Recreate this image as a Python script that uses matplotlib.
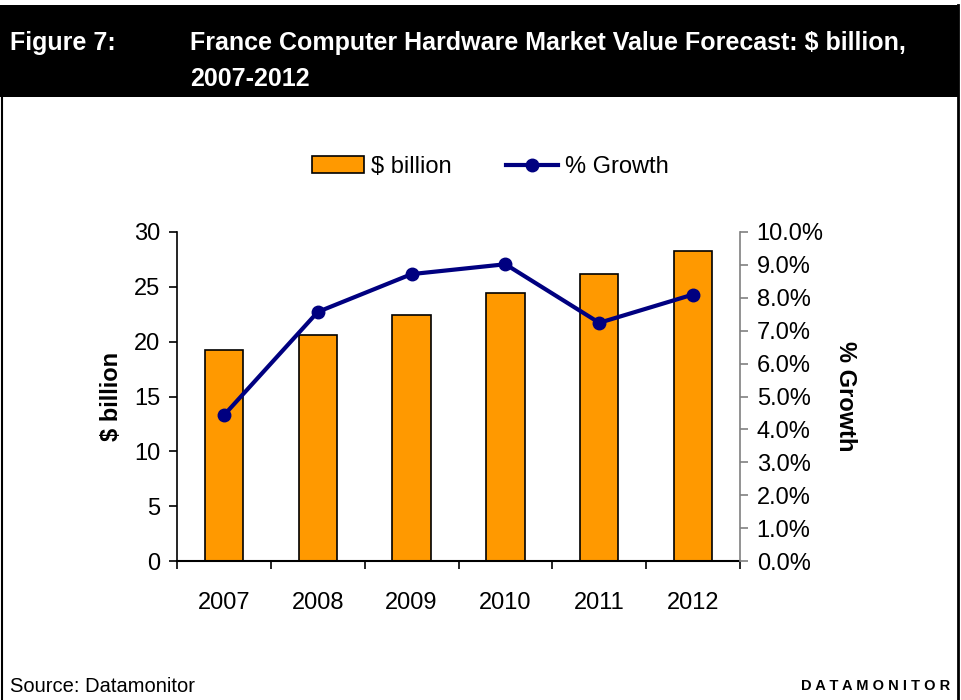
import matplotlib
matplotlib.use('Agg')
import matplotlib.pyplot as plt
from matplotlib.patches import Rectangle
from matplotlib.lines import Line2D
import numpy as np

# data
years = ['2007', '2008', '2009', '2010', '2011', '2012']
value_bn = [19.2, 20.6, 22.4, 24.4, 26.2, 28.3]
growth_pct = [4.43, 7.57, 8.72, 9.02, 7.24, 8.10]

plt.rcParams['font.family'] = ['Liberation Sans', 'DejaVu Sans']

W, H = 961, 700
fig = plt.figure(figsize=(W / 100, H / 100), dpi=100)


def fx(px):
    return px / W


def fy(py):
    return 1 - py / H


# header band and frame
fig.patches.append(Rectangle((0, fy(97)), fx(958), fy(5) - fy(97), transform=fig.transFigure,
                             facecolor='black', edgecolor='none', zorder=0))
fig.lines.append(Line2D([fx(2), fx(2)], [0, fy(97)], transform=fig.transFigure, color='black', lw=1.5))
fig.lines.append(Line2D([fx(958), fx(958)], [0, fy(5)], transform=fig.transFigure, color='black', lw=2))

fig.text(fx(10), fy(43), 'Figure 7:', color='white', fontsize=18, fontweight='bold', va='center', ha='left')
fig.text(fx(190), fy(43), 'France Computer Hardware Market Value Forecast: $ billion,', color='white',
         fontsize=18, fontweight='bold', va='center', ha='left')
fig.text(fx(190), fy(79), '2007-2012', color='white', fontsize=18, fontweight='bold', va='center', ha='left')

fig.text(fx(10), fy(686), 'Source: Datamonitor', fontsize=14.5, va='center', ha='left')
fig.text(fx(950), fy(686), ' '.join('DATAMONITOR'), fontsize=10.5, fontweight='bold', va='center', ha='right')

# chart
ax = fig.add_axes([fx(177), fy(561), fx(740) - fx(177), fy(232) - fy(561)])
x = np.arange(len(years))
bars = ax.bar(x, value_bn, width=0.41, color='#FF9900', edgecolor='black', linewidth=1.2, zorder=2,
              label='$ billion')
ax.set_xlim(-0.5, len(years) - 0.5)
ax.set_ylim(0, 30)
ax.set_yticks(range(0, 31, 5))
ax.set_xticks(x)
ax.set_xticklabels(years)
ax.set_xticks(np.arange(-0.5, len(years), 1), minor=True)
ax.tick_params(axis='x', which='major', length=0, pad=22, labelsize=17)
ax.tick_params(axis='x', which='minor', length=6, width=1.2, direction='out')
ax.tick_params(axis='y', length=6, width=1.2, direction='out', labelsize=17, pad=6)
ax.spines['top'].set_visible(False)
ax.spines['right'].set_visible(False)
ax.spines['left'].set_linewidth(1.2)
ax.spines['bottom'].set_linewidth(1.5)
ax.set_ylabel('$ billion', fontsize=17, fontweight='bold', labelpad=8)

ax2 = ax.twinx()
line, = ax2.plot(x, growth_pct, color='#000080', linewidth=3, marker='o', markersize=9, zorder=3,
                 label='% Growth')
ax2.set_ylim(0, 10)
ax2.set_yticks(range(0, 11))
ax2.set_yticklabels(['%.1f%%' % v for v in range(0, 11)])
ax2.tick_params(axis='y', length=6, width=1.2, direction='out', color='#808080', labelsize=17, pad=6)
for s in ['top', 'left', 'bottom']:
    ax2.spines[s].set_visible(False)
ax2.spines['right'].set_color('#808080')
ax2.spines['right'].set_linewidth(1.2)
ax2.set_ylabel('% Growth', fontsize=17, fontweight='bold', rotation=-90, labelpad=24)

fig.legend([bars, line], ['$ billion', '% Growth'], loc='center', bbox_to_anchor=(fx(490), fy(167)),
           ncol=2, frameon=False, fontsize=17, handlelength=2.2, handletextpad=0.3, columnspacing=2.3)

fig.savefig('out.png', dpi=100)
